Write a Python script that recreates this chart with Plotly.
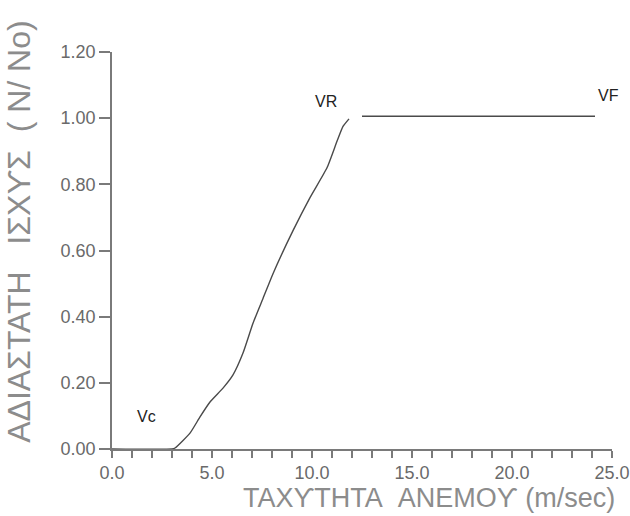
import plotly.graph_objects as go

# Data
wind_speed = [0.0, 3.0, 3.15, 3.9, 4.4, 4.9, 5.55, 6.05, 6.55, 7.05, 7.55, 8.05, 9.05, 9.9, 10.75, 11.25, 11.55, 11.85]
power_ratio = [0.0, 0.0, 0.003, 0.048, 0.097, 0.142, 0.184, 0.224, 0.29, 0.38, 0.455, 0.53, 0.66, 0.76, 0.85, 0.93, 0.975, 0.998]
flat_speed = [12.5, 24.15]
flat_ratio = [1.006, 1.006]

label_text = ["Vc", "VR", "VF"]
label_x = [1.7, 10.7, 24.8]
label_y = [0.097, 1.05, 1.07]

x_ticks = [0, 5, 10, 15, 20, 25]
y_ticks = [0.0, 0.2, 0.4, 0.6, 0.8, 1.0, 1.2]

NB = "\u00a0"
x_title = f"ΤΑΧϒΤΗΤΑ{NB}{NB}ΑΝΕΜΟϒ{NB}(m/sec)"
y_title = f"ΑΔΙΑΣΤΑΤΗ{NB}{NB}{NB}ΙΣΧϒΣ{NB}{NB}({NB}N/{NB}No)"

line_color = "#4a4a4a"
axis_color = "#7a7a7a"
base_font = "Liberation Sans, Arial, sans-serif"

fig = go.Figure()
fig.add_trace(go.Scatter(x=wind_speed, y=power_ratio, mode="lines",
                         line=dict(color=line_color, width=1.4, shape="spline", smoothing=0.5),
                         showlegend=False, hoverinfo="skip", cliponaxis=False))
fig.add_trace(go.Scatter(x=flat_speed, y=flat_ratio, mode="lines",
                         line=dict(color=line_color, width=1.4),
                         showlegend=False, hoverinfo="skip", cliponaxis=False))

for t, lx, ly in zip(label_text, label_x, label_y):
    fig.add_annotation(text=t, x=lx, y=ly, xref="x", yref="y", showarrow=False,
                       xanchor="center", yanchor="middle",
                       font=dict(family=base_font, size=16, color="#222222"))

fig.update_xaxes(range=[0, 25], tickvals=x_ticks, ticktext=[f"{v:.1f}" for v in x_ticks],
                 showline=True, linecolor=axis_color, linewidth=1.5,
                 ticks="outside", ticklen=7, tickwidth=1.5, tickcolor=axis_color,
                 minor=dict(dtick=1, ticks="outside", ticklen=7, tickwidth=1.5, tickcolor=axis_color),
                 showgrid=False, zeroline=False, ticklabeloverflow="allow", automargin=False,
                 tickfont=dict(family=base_font, size=18, color="#6a6a6a"))
fig.update_yaxes(range=[0, 1.2], tickvals=y_ticks, ticktext=[f"{v:.2f}" for v in y_ticks],
                 showline=True, linecolor=axis_color, linewidth=1.5,
                 ticks="outside", ticklen=11, tickwidth=1.5, tickcolor=axis_color,
                 showgrid=False, zeroline=False, automargin=False,
                 tickfont=dict(family=base_font, size=18, color="#6a6a6a"))

fig.add_annotation(text=x_title, xref="paper", yref="paper", x=0.634, y=-0.123,
                   xanchor="center", yanchor="middle", showarrow=False,
                   font=dict(family=base_font, size=27, color="#8c8c8c"))
fig.add_annotation(text=y_title, xref="paper", yref="paper", x=-0.186, y=0.547,
                   xanchor="center", yanchor="middle", textangle=-90, showarrow=False,
                   font=dict(family=base_font, size=32, color="#8c8c8c"))

fig.update_layout(width=630, height=516, margin=dict(l=112, r=18, t=52, b=67),
                  paper_bgcolor="white", plot_bgcolor="white")

fig.write_html("out.html", config={"displayModeBar": False},
               post_script="document.body.style.margin='0';")
